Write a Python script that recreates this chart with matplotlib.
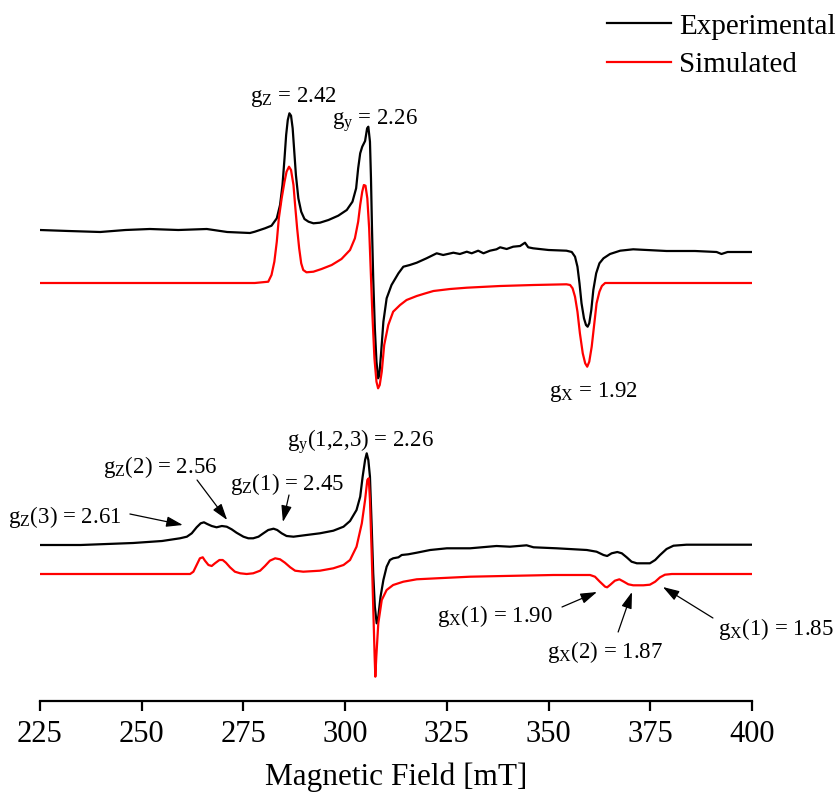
import numpy as np
import matplotlib
matplotlib.use('Agg')
import matplotlib.pyplot as plt

plt.rcParams['font.family'] = ['Liberation Serif', 'DejaVu Serif']
plt.rcParams['mathtext.fontset'] = 'custom'
plt.rcParams['mathtext.rm'] = 'Liberation Serif'
plt.rcParams['mathtext.it'] = 'Liberation Serif:italic'

# top spectrum (single species) - field in mT, intensity in arbitrary units
top_exp_field = [225.0, 232.0, 239.8, 246.0, 252.0, 259.0, 266.0, 271.0, 276.6, 277.8,
                 280.3, 281.9, 283.2, 284.0, 284.6, 285.1, 285.5, 285.9, 286.3, 286.7,
                 287.1, 287.5, 287.9, 288.5, 289.2, 290.0, 291.0, 292.2, 293.8, 295.9,
                 298.3, 300.4, 301.8, 302.7, 303.2, 303.7, 304.2, 304.9, 305.4, 305.7,
                 306.1, 306.35, 306.6, 306.9, 307.3, 307.7, 308.1, 308.4, 308.8, 309.4,
                 310.2, 311.4, 313.1, 314.3, 315.9, 317.6, 320.0, 322.5, 324.1, 326.6,
                 328.2, 329.9, 331.1, 332.7, 334.0, 335.6, 337.2, 338.1, 339.7, 341.3,
                 343.0, 344.2, 345.0, 346.2, 350.0, 354.4, 355.7, 356.5, 357.1, 357.6,
                 358.1, 358.7, 359.2, 359.6, 360.0, 360.5, 361.0, 361.7, 362.5, 363.5,
                 365.1, 367.6, 370.8, 379.0, 386.0, 391.3, 392.5, 394.0, 400.0]
top_exp_int = [0, -1, -2, 0, 1, 0, 1, -2, -3, -1.7,
               1.7, 4.3, 11.7, 25, 45, 71.7, 95, 110, 116.7, 114.3,
               101.7, 78.3, 55, 31.7, 18.3, 11, 8.3, 6.7, 7.3, 10,
               14.3, 20, 28.3, 41.7, 61.7, 76.7, 83.3, 89, 101.7, 103.3,
               88.3, 51.7, 1.7, -48.3, -98.3, -131.7, -148.3, -145, -125, -91.7,
               -68.3, -55, -43.3, -36.7, -35, -32.7, -28.3, -23.3, -25, -22.7,
               -24, -21.7, -23.3, -20.7, -23.3, -20.7, -19.3, -17.3, -19, -16.7,
               -16, -12.7, -17.3, -18.3, -20, -20.7, -22, -26.7, -36.7, -53.3,
               -73.3, -88.3, -95, -96.7, -93.3, -80, -60, -43.3, -33.3, -28.3,
               -24, -20.7, -19.3, -21, -21, -22, -24, -22, -22]

top_sim_field = [225.0, 277.8, 281.1, 281.9, 282.6, 283.2, 283.7, 284.4, 285.1, 285.6,
                 286.2, 286.7, 287.3, 287.7, 288.2, 288.7, 289.2, 289.7, 290.5, 292.2,
                 294.2, 296.7, 299.1, 301.2, 302.4, 303.2, 303.7, 304.2, 304.6, 305.0,
                 305.45, 305.9, 306.3, 306.7, 307.2, 307.7, 308.1, 308.5, 309.0, 309.6,
                 310.6, 311.8, 313.5, 315.1, 317.6, 319.6, 321.7, 325.8, 329.9, 338.1,
                 346.3, 354.4, 355.3, 355.9, 356.5, 357.1, 357.7, 358.4, 359.0, 359.5,
                 360.0, 360.6, 361.2, 361.8, 362.5, 363.1, 363.9, 400.0]
top_sim_int = [0, 0, 1.3, 8, 21.3, 41.3, 64.7, 84.7, 101.3, 111.3,
               116.3, 113, 98, 78, 54.7, 34.7, 19.7, 13, 10.7, 11.3,
               14, 18, 24, 33, 44.7, 61.3, 78, 91.3, 98, 97.3,
               84.7, 54.7, 11.3, -32, -75.3, -98.7, -105.3, -102, -88.7, -62,
               -42, -28.7, -22, -17, -13, -10.5, -8, -6, -4.7, -3,
               -2, -1.3, -2, -5.3, -13.7, -28.7, -50.3, -70.3, -80.3, -83.7,
               -78.7, -63.7, -42, -20.3, -8.7, -3, 0, 0]

# bottom spectrum (three species)
bot_exp_field = [225.0, 235.0, 247.9, 255.0, 259.4, 261.1, 262.3, 263.5, 264.5, 265.3,
                 266.1, 267.2, 268.4, 269.7, 270.9, 272.1, 273.3, 275.0, 276.2, 277.4,
                 278.7, 279.9, 281.1, 282.4, 283.3, 284.4, 285.6, 287.3, 290.5, 293.8,
                 297.1, 299.6, 301.2, 302.8, 303.7, 304.3, 304.9, 305.3, 305.7, 306.1,
                 306.5, 306.9, 307.3, 307.75, 308.15, 308.7, 309.4, 310.2, 311.0, 311.8,
                 313.1, 313.9, 315.5, 317.6, 320.9, 325.0, 330.7, 337.2, 340.5, 344.6,
                 346.3, 352.0, 359.4, 361.8, 363.5, 364.4, 365.5, 366.9, 368.0, 369.2,
                 370.4, 371.7, 374.9, 376.2, 377.4, 379.0, 380.7, 383.9, 400.0]
bot_exp_int = [0, 0, 2, 4, 6.7, 8.3, 11.7, 17.7, 21.7, 22.7,
               21, 19, 17.7, 19, 18.3, 15.7, 12.3, 8.3, 6.7, 6.7,
               8.3, 11.7, 15, 16.3, 15, 11.7, 9, 8.3, 10, 11.7,
               14.3, 18.3, 24, 35, 48.3, 68.3, 85, 91.7, 85, 68.3,
               21.7, -28.3, -61.7, -78.3, -71.7, -51.7, -35, -21.7, -15, -13.3,
               -12.3, -10, -9.3, -7.7, -5, -3.3, -3.3, -1, -1.7, -0.3,
               -2.3, -3.3, -5, -6.7, -10, -11, -8.3, -7, -8.3, -12.3,
               -16.7, -18.3, -18.3, -15, -10, -4, -0.7, 0.3, 0.3]

bot_sim_field = [225.0, 261.9, 262.7, 263.5, 264.3, 265.0, 265.55, 266.4, 267.2, 268.0,
                 269.1, 269.9, 270.7, 271.7, 272.9, 274.2, 275.8, 277.4, 279.1, 280.3,
                 281.5, 282.8, 284.0, 285.2, 286.5, 287.7, 289.7, 293.8, 297.1, 299.6,
                 301.2, 302.8, 304.1, 304.9, 305.45, 305.8, 306.1, 306.5, 306.9, 307.25,
                 307.42, 307.66, 308.15, 309.0, 310.2, 311.8, 314.3, 317.6, 322.5, 330.7,
                 338.9, 351.2, 360.2, 361.4, 362.6, 363.9, 364.4, 365.1, 366.3, 367.4,
                 368.5, 369.6, 370.8, 373.3, 374.9, 376.2, 377.4, 378.6, 380.3, 400.0]
bot_sim_int = [0, 0, 2.3, 9, 15.7, 16.7, 13.3, 9, 8, 10.7,
               14, 14, 11.3, 6.7, 2.3, 0.7, 0, 0.7, 3.3, 8,
               13.3, 15.7, 14.7, 11.3, 6.7, 3.3, 2.3, 3.3, 5.7, 9,
               14, 27.3, 50.7, 74, 94, 95.7, 74, 24, -32.7, -82.7,
               -102.7, -82.7, -49.3, -26, -16, -11, -7.7, -5.3, -4.3, -2.7,
               -2, -1, -1, -2.7, -7.7, -12.7, -13.3, -11, -6.7, -5.3,
               -7.7, -10.3, -11.3, -11.3, -10.7, -7.7, -3.3, -0.7, 0, 0]

# vertical stacking offsets
off_top_exp, off_top_sim = 566, 513
off_bot_exp, off_bot_sim = 251, 222

fig = plt.figure(figsize=(8.39, 7.96), dpi=100)
ax = fig.add_axes([40/839, 95/796, 712/839, 701/796])

lw = 1.6
ax.plot(top_exp_field, np.array(top_exp_int) + off_top_exp, color='black', lw=lw, label='Experimental')
ax.plot(top_sim_field, np.array(top_sim_int) + off_top_sim, color='red', lw=lw, label='Simulated')
ax.plot(bot_exp_field, np.array(bot_exp_int) + off_bot_exp, color='black', lw=lw)
ax.plot(bot_sim_field, np.array(bot_sim_int) + off_bot_sim, color='red', lw=lw)

ax.set_xlim(225, 400)
ax.set_ylim(95, 796)
ax.set_xticks([225, 250, 275, 300, 325, 350, 375, 400])
ax.set_yticks([])
for s in ['left', 'right', 'top']:
    ax.spines[s].set_visible(False)
ax.spines['bottom'].set_linewidth(1.6)
ax.tick_params(axis='x', direction='out', length=7.5, width=1.6, labelsize=22, pad=6)
ax.set_xlabel('Magnetic Field [mT]', fontsize=22.5, labelpad=10)
ax.patch.set_alpha(0)

fs = 16.5
ax.text(287.3, 694, r'g$_{\rm Z}$ = 2.42', fontsize=fs, ha='center', va='baseline')
ax.text(307.3, 671, r'g$_{\rm y}$ = 2.26', fontsize=fs, ha='center', va='baseline')
ax.text(360.9, 399, r'g$_{\rm X}$ = 1.92', fontsize=fs, ha='center', va='baseline')

ax.text(217.1, 273, r'g$_{\rm Z}$(3) = 2.61', fontsize=fs, ha='left', va='baseline', clip_on=False)
ax.text(240.5, 323, r'g$_{\rm Z}$(2) = 2.56', fontsize=fs, ha='left', va='baseline')
ax.text(271.7, 306, r'g$_{\rm Z}$(1) = 2.45', fontsize=fs, ha='left', va='baseline')
ax.text(285.7, 349, r'g$_{\rm y}$(1,2,3) = 2.26', fontsize=fs, ha='left', va='baseline')
ax.text(322.6, 174, r'g$_{\rm X}$(1) = 1.90', fontsize=fs, ha='left', va='baseline')
ax.text(349.6, 138, r'g$_{\rm X}$(2) = 1.87', fontsize=fs, ha='left', va='baseline')
ax.text(391.6, 161, r'g$_{\rm X}$(1) = 1.85', fontsize=fs, ha='left', va='baseline', clip_on=False)

arrow = dict(arrowstyle='-|>,head_length=1.0,head_width=0.32', color='black', lw=0.9,
             shrinkA=0, shrinkB=0)
arrows = [((247.1, 282), (260.1, 271)),
          ((263.6, 316), (271.0, 276)),
          ((286.2, 301), (284.7, 274)),
          ((353.3, 189), (361.9, 204)),
          ((367.1, 164), (370.5, 204)),
          ((390.4, 178), (378.1, 209))]
for start, tip in arrows:
    ax.annotate('', xy=tip, xytext=start, arrowprops=arrow, annotation_clip=False)

fig.legend(loc='upper right', bbox_to_anchor=(1.0, 0.987), frameon=False, fontsize=21,
           handlelength=2.2, handletextpad=0.3, labelspacing=0.4, borderpad=0.1,
           borderaxespad=0)

fig.savefig('out.png', dpi=100)
